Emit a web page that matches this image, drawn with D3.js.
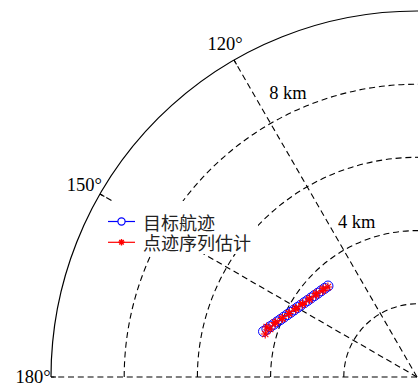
<!DOCTYPE html>
<html>
<head>
<meta charset="utf-8">
<script src="https://cdn.jsdelivr.net/npm/d3@7"></script>
<style>
  html, body { margin: 0; padding: 0; background: #fff; }
  svg { display: block; }
</style>
</head>
<body>
<svg id="chart" width="418" height="390"></svg>
<script>
// Target track (range in km, bearing in degrees)
const trackR = [4.374, 4.305, 4.238, 4.172, 4.109, 4.047, 3.989, 3.932, 3.878, 3.826,
                3.778, 3.732, 3.689, 3.648, 3.612, 3.578, 3.548, 3.521, 3.498, 3.478];
const trackTheta = [163.49, 162.31, 161.08, 159.82, 158.51, 157.17, 155.79, 154.37, 152.91, 151.39,
                    149.86, 148.26, 146.65, 144.99, 143.30, 141.57, 139.80, 138.03, 136.21, 134.37];

// Plot-sequence estimates
const estR = [4.31, 4.33, 4.22, 4.16, 4.14, 4.01, 4.02, 3.90, 3.91, 3.79,
              3.81, 3.70, 3.72, 3.62, 3.64, 3.55, 3.58, 3.49, 3.52, 3.46];
const estTheta = [164.2, 161.6, 161.9, 159.0, 159.2, 156.4, 156.6, 153.6, 153.7, 150.7,
                  150.5, 147.6, 147.3, 144.3, 144.0, 140.9, 140.4, 137.4, 136.8, 134.7];

const ringValues = [2, 4, 6, 8];
const ringLabels = [4, 8];
const rMax = 10;
const spokeAngles = [120, 150, 180];
const angleLabels = [120, 150, 180];
const seriesNames = ["目标航迹", "点迹序列估计"];

const svg = d3.select("#chart");
const cx = 417, cy = 377, R = 366;
const dash = "6,3.8";

const r = d3.scaleLinear().domain([0, rMax]).range([0, R]);
const toRad = deg => deg * Math.PI / 180;
// polar (value, degrees) -> screen
const px = (v, deg) => cx + r(v) * Math.cos(toRad(deg));
const py = (v, deg) => cy - r(v) * Math.sin(toRad(deg));

// single-stroke half circle, drawn from 180° round to 0°
const halfCircle = rad => {
  const p = d3.path();
  p.moveTo(cx - rad, cy);
  p.arc(cx, cy, rad, Math.PI, 2 * Math.PI, false);
  return p.toString();
};

const g = svg.append("g");

// dashed range rings
g.selectAll("path.ring").data(ringValues).join("path")
  .attr("class", "ring")
  .attr("d", d => halfCircle(r(d)))
  .attr("fill", "none").attr("stroke", "#000").attr("stroke-width", 1.1)
  .attr("stroke-dasharray", dash);

// dashed spokes
g.selectAll("line.spoke").data(spokeAngles).join("line")
  .attr("class", "spoke")
  .attr("x1", cx).attr("y1", cy)
  .attr("x2", d => px(rMax, d)).attr("y2", d => py(rMax, d))
  .attr("stroke", "#000").attr("stroke-width", 1.1)
  .attr("stroke-dasharray", dash);

// outer boundary
g.append("path")
  .attr("d", halfCircle(R))
  .attr("fill", "none").attr("stroke", "#000").attr("stroke-width", 1.2);

// angle ticks on the boundary
g.selectAll("line.tick").data(spokeAngles).join("line")
  .attr("class", "tick")
  .attr("x1", d => px(rMax, d)).attr("y1", d => py(rMax, d))
  .attr("x2", d => cx + (R - 5) * Math.cos(toRad(d)))
  .attr("y2", d => cy - (R - 5) * Math.sin(toRad(d)))
  .attr("stroke", "#000").attr("stroke-width", 1.1);

// angle labels
g.selectAll("text.alab").data(angleLabels).join("text")
  .attr("class", "alab")
  .attr("x", d => cx + (R + 18) * Math.cos(toRad(d)))
  .attr("y", d => cy - (R + 18) * Math.sin(toRad(d)))
  .attr("text-anchor", "middle")
  .attr("dominant-baseline", "central")
  .attr("font-family", "'Liberation Serif', serif")
  .attr("font-size", 18.5)
  .attr("fill", "#000")
  .text(d => d + "°");

// range labels along the 120° spoke
g.selectAll("text.rlab").data(ringLabels).join("text")
  .attr("class", "rlab")
  .attr("x", d => cx + (r(d) + 22) * Math.cos(toRad(118)))
  .attr("y", d => cy - (r(d) + 22) * Math.sin(toRad(118)))
  .attr("font-family", "'Liberation Serif', serif")
  .attr("font-size", 18.5)
  .attr("fill", "#000")
  .text(d => d + " km");

const trackData = trackR.map((v, i) => ({ r: v, t: trackTheta[i] }));
const estData = estR.map((v, i) => ({ r: v, t: estTheta[i] }));

const line = d3.line().x(d => px(d.r, d.t)).y(d => py(d.r, d.t));

// target track
g.append("path").datum(trackData)
  .attr("d", line).attr("fill", "none").attr("stroke", "blue").attr("stroke-width", 1);
g.selectAll("circle.trk").data(trackData).join("circle")
  .attr("class", "trk")
  .attr("cx", d => px(d.r, d.t)).attr("cy", d => py(d.r, d.t))
  .attr("r", 5).attr("fill", "none").attr("stroke", "blue").attr("stroke-width", 1);

// asterisk marker path
const star = s => {
  const a = s * 0.707;
  return `M${-s},0L${s},0M0,${-s}L0,${s}M${-a},${-a}L${a},${a}M${-a},${a}L${a},${-a}`;
};

// estimates
g.append("path").datum(estData)
  .attr("d", line).attr("fill", "none").attr("stroke", "red").attr("stroke-width", 1.1);
g.selectAll("path.est").data(estData).join("path")
  .attr("class", "est")
  .attr("transform", d => `translate(${px(d.r, d.t)},${py(d.r, d.t)})`)
  .attr("d", star(4.4)).attr("fill", "none").attr("stroke", "red").attr("stroke-width", 1.1);

// legend
const leg = svg.append("g");
leg.append("rect").attr("x", 105).attr("y", 201).attr("width", 153).attr("height", 53).attr("fill", "#fff");
const legY = [221.5, 242.3];
const legColor = ["blue", "red"];
leg.selectAll("line.ll").data(seriesNames).join("line")
  .attr("class", "ll")
  .attr("x1", 108).attr("x2", 135)
  .attr("y1", (d, i) => legY[i]).attr("y2", (d, i) => legY[i])
  .attr("stroke", (d, i) => legColor[i]).attr("stroke-width", 1.2);
leg.append("circle").attr("cx", 121.5).attr("cy", legY[0]).attr("r", 3.6)
  .attr("fill", "#fff").attr("stroke", "blue").attr("stroke-width", 1.2);
leg.append("path").attr("transform", `translate(121.5,${legY[1]})`)
  .attr("d", star(3.2)).attr("fill", "none").attr("stroke", "red").attr("stroke-width", 1.4);
leg.selectAll("text.lt").data(seriesNames).join("text")
  .attr("class", "lt")
  .attr("x", 143)
  .attr("y", (d, i) => legY[i])
  .attr("dominant-baseline", "central")
  .attr("font-family", "'Noto Sans CJK SC', sans-serif")
  .attr("font-size", 18)
  .attr("fill", "#222")
  .text(d => d);
</script>
</body>
</html>
